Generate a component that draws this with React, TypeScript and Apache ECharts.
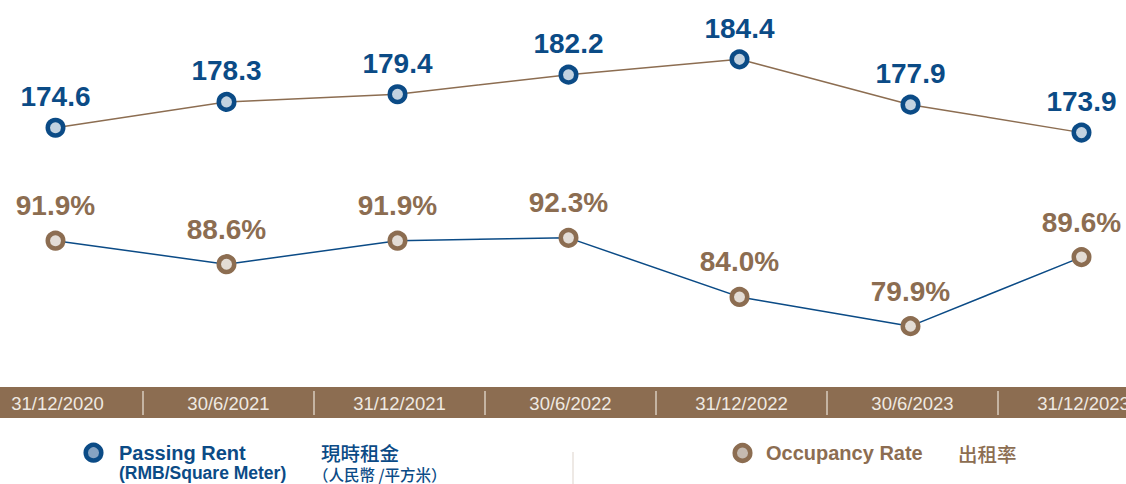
import React, { useEffect, useRef } from "react";
import * as echarts from "echarts";

const categories = ["31/12/2020", "30/6/2021", "31/12/2021", "30/6/2022", "31/12/2022", "30/6/2023", "31/12/2023"];
const passingRent = [174.6, 178.3, 179.4, 182.2, 184.4, 177.9, 173.9];
const occupancyRate = [91.9, 88.6, 91.9, 92.3, 84.0, 79.9, 89.6];

const BLUE = "#0b4b86";
const BLUE_FILL = "#c2d2e0";
const BROWN = "#8c6d51";
const BROWN_FILL = "#e3dcd5";
const LATIN = "'Liberation Sans', Arial, Helvetica, sans-serif";
const CJK = "'Noto Sans CJK TC', 'Noto Sans CJK SC', sans-serif";
const OX = 30; // the chart canvas starts 30px left of the page

export default function App() {
  const ref = useRef<HTMLDivElement>(null);
  useEffect(() => {
    if (!ref.current) return;
    const chart = echarts.init(ref.current, null, { renderer: "svg" });
    chart.setOption({
      animation: false,
      backgroundColor: "#ffffff",
      grid: [
        { left: 0, width: 1197, top: 0, height: 386 },
        { left: 2, width: 1197, top: 391, height: 24 },
      ],
      xAxis: [
        { gridIndex: 0, type: "category", data: categories, boundaryGap: true, show: false },
        {
          gridIndex: 1,
          type: "category",
          data: categories,
          boundaryGap: true,
          z: 10,
          axisLine: { show: false },
          axisTick: { show: false },
          splitLine: { show: true, interval: 0, lineStyle: { color: "#d8ccbe", width: 1.5 } },
          axisLabel: {
            inside: true,
            interval: 0,
            margin: 12,
            verticalAlign: "middle",
            color: "#efe9e2",
            fontSize: 18.5,
            fontFamily: "'Liberation Sans Narrow', 'Arial Narrow', 'Liberation Sans', Arial, sans-serif",
          },
        },
      ],
      yAxis: [
        { gridIndex: 0, type: "value", min: 137.6, max: 192.9, show: false, splitLine: { show: false } },
        { gridIndex: 0, type: "value", min: 71.5, max: 125.7, show: false, splitLine: { show: false } },
        { gridIndex: 1, type: "value", show: false, splitLine: { show: false } },
      ],
      series: [
        {
          name: "Passing Rent",
          type: "line",
          xAxisIndex: 0,
          yAxisIndex: 0,
          data: passingRent,
          symbol: "circle",
          symbolSize: 15.5,
          itemStyle: { color: BLUE_FILL, borderColor: BLUE, borderWidth: 4.5 },
          lineStyle: { color: BROWN, width: 1.5 },
          label: {
            show: true,
            position: "top",
            distance: 7,
            color: BLUE,
            fontSize: 28,
            fontWeight: "bold",
            fontFamily: LATIN,
            formatter: (p: any) => Number(p.value).toFixed(1),
          },
        },
        {
          name: "Occupancy Rate",
          type: "line",
          xAxisIndex: 0,
          yAxisIndex: 1,
          data: occupancyRate,
          symbol: "circle",
          symbolSize: 15.5,
          itemStyle: { color: BROWN_FILL, borderColor: BROWN, borderWidth: 4.5 },
          lineStyle: { color: BLUE, width: 1.5 },
          label: {
            show: true,
            position: "top",
            distance: 11,
            color: BROWN,
            fontSize: 28,
            fontWeight: "bold",
            fontFamily: LATIN,
            formatter: (p: any) => Number(p.value).toFixed(1) + "%",
          },
        },
      ],
      graphic: [
        { type: "rect", z: -10, shape: { x: OX, y: 387, width: 1126, height: 31 }, style: { fill: BROWN } },
        { type: "circle", shape: { cx: OX + 93.5, cy: 452.7, r: 7.8 }, style: { fill: "#86a3c2", stroke: BLUE, lineWidth: 4.5 } },
        { type: "text", x: OX + 119, y: 453, style: { text: "Passing Rent", fill: BLUE, fontSize: 20, fontWeight: "bold", fontFamily: LATIN, verticalAlign: "middle", lineHeight: 18 } },
        { type: "text", x: OX + 119, y: 472.5, style: { text: "(RMB/Square Meter)", fill: BLUE, fontSize: 17.5, fontWeight: "bold", fontFamily: LATIN, verticalAlign: "middle", lineHeight: 16 } },
        { type: "text", x: OX + 321, y: 452.5, style: { text: "現時租金", fill: BLUE, fontSize: 19.5, fontWeight: 500, fontFamily: CJK, verticalAlign: "middle", lineHeight: 18 } },
        { type: "text", x: OX + 313, y: 474, style: { text: "（人民幣 /平方米）", fill: BLUE, fontSize: 15.5, fontWeight: 500, fontFamily: CJK, verticalAlign: "middle", lineHeight: 15 } },
        { type: "line", shape: { x1: OX + 573, y1: 452, x2: OX + 573, y2: 484 }, style: { stroke: "#e8e2dc", lineWidth: 1.5 } },
        { type: "circle", shape: { cx: OX + 742.5, cy: 453, r: 7.8 }, style: { fill: "#c5bab0", stroke: BROWN, lineWidth: 4.5 } },
        { type: "text", x: OX + 766, y: 453, style: { text: "Occupancy Rate", fill: BROWN, fontSize: 20, fontWeight: "bold", fontFamily: LATIN, verticalAlign: "middle", lineHeight: 18 } },
        { type: "text", x: OX + 958, y: 453, style: { text: "出租率", fill: BROWN, fontSize: 19.5, fontWeight: 500, fontFamily: CJK, verticalAlign: "middle", lineHeight: 18 } },
      ],
    });
    return () => chart.dispose();
  }, []);
  return <div ref={ref} style={{ position: "fixed", left: -OX, top: 0, width: 1200, height: 484 }} />;
}
